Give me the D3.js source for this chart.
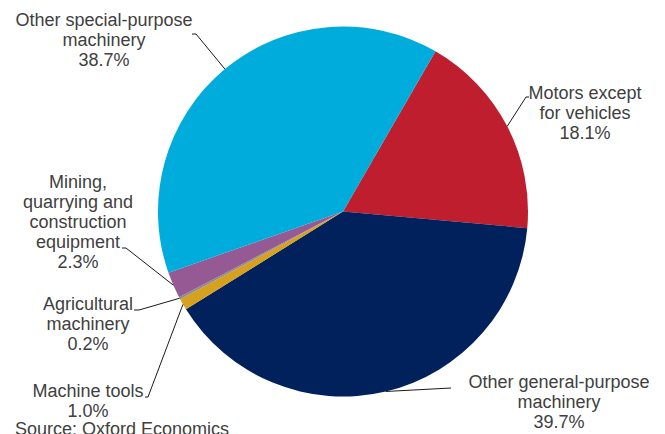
<!DOCTYPE html>
<html>
<head>
<meta charset="utf-8">
<script src="https://cdn.jsdelivr.net/npm/d3@7/dist/d3.min.js"></script>
<style>
  html, body { margin: 0; padding: 0; background: #ffffff; }
  svg { display: block; }
  text { font-family: "Liberation Sans", Arial, sans-serif; fill: #404040; }
</style>
</head>
<body>
<script>
// Machinery output shares (%), listed clockwise from the first slice
const categories = [
  "Motors except for vehicles",
  "Other general-purpose machinery",
  "Machine tools",
  "Agricultural machinery",
  "Mining, quarrying and construction equipment",
  "Other special-purpose machinery"
];
const values = [18.1, 39.7, 1.0, 0.2, 2.3, 38.7];
const valueLabels = ["18.1%", "39.7%", "1.0%", "0.2%", "2.3%", "38.7%"];
const labelLines = [
  ["Motors except", "for vehicles"],
  ["Other general-purpose", "machinery"],
  ["Machine tools"],
  ["Agricultural", "machinery"],
  ["Mining,", "quarrying and", "construction", "equipment"],
  ["Other special-purpose", "machinery"]
];
const colors = ["#BE1E2D", "#00215B", "#D6A11E", "#8C8C8C", "#955A93", "#00ACDB"];
const source = "Source: Oxford Economics";

// Label placement: text centre x, first baseline y, and leader end/elbow points
const labelLayout = [
  { x: 585, y: 99,  end: [529, 97],  elbow: [526, 97] },
  { x: 559, y: 388, end: [451, 388], elbow: null },
  { x: 88,  y: 397, end: [145, 397], elbow: [148, 397] },
  { x: 88,  y: 310, end: [134, 310], elbow: [139, 310] },
  { x: 78,  y: 188, end: [122, 248], elbow: [126, 248] },
  { x: 104, y: 26,  end: [192, 34],  elbow: [196, 34] }
];

const W = 665, H = 434;
const cx = 343, cy = 211.5, R = 185;
const lineH = 20;

const svg = d3.select("body").append("svg")
  .attr("width", W).attr("height", H);

const startAngle = 30 * Math.PI / 180;
const pie = d3.pie().sort(null).value(d => d)
  .startAngle(startAngle).endAngle(startAngle + 2 * Math.PI);
const arcs = pie(values);
const arc = d3.arc().innerRadius(0).outerRadius(R);

const g = svg.append("g").attr("transform", `translate(${cx},${cy})`);
g.selectAll("path.slice").data(arcs).enter().append("path")
  .attr("class", "slice")
  .attr("d", arc)
  .attr("fill", (d, i) => colors[i]);

// Leader lines from each slice's outer midpoint to its label
arcs.forEach((d, i) => {
  const a = (d.startAngle + d.endAngle) / 2;
  const px = cx + R * Math.sin(a), py = cy - R * Math.cos(a);
  const L = labelLayout[i];
  const pts = [[px, py]];
  if (L.elbow) pts.push(L.elbow);
  pts.push(L.end);
  svg.append("path")
    .attr("d", d3.line()(pts))
    .attr("fill", "none")
    .attr("stroke", "#1a1a1a")
    .attr("stroke-width", 1);
});

// Category labels with their percentage on the last line
arcs.forEach((d, i) => {
  const L = labelLayout[i];
  const lines = labelLines[i].concat([valueLabels[i]]);
  const t = svg.append("text")
    .attr("text-anchor", "middle")
    .attr("font-size", 18);
  lines.forEach((s, k) => {
    t.append("tspan").attr("x", L.x).attr("y", L.y + k * lineH).text(s);
  });
});

svg.append("text")
  .attr("x", 15).attr("y", 435)
  .attr("font-size", 18)
  .text(source);
</script>
</body>
</html>
